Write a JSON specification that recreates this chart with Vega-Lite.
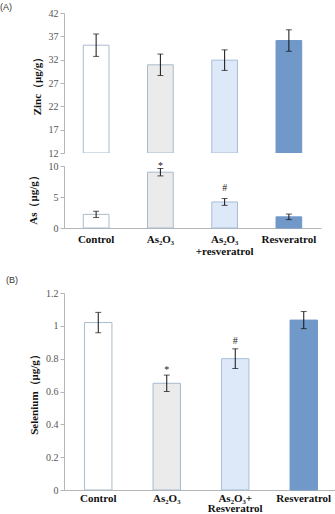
{
  "$schema": "https://vega.github.io/schema/vega-lite/v6.json",
  "background": "white",
  "padding": {"left": 0, "top": 3, "right": 0, "bottom": 0},
  "config": {
    "view": {"stroke": null},
    "font": "Liberation Serif",
    "axis": {
      "grid": false,
      "domainColor": "#b5b5b5",
      "tickColor": "#b5b5b5",
      "tickSize": 4,
      "labelOverlap": false,
      "labelFont": "Liberation Serif",
      "labelColor": "#555555",
      "labelFontSize": 10,
      "titleFont": "Liberation Serif",
      "titleFontWeight": "bold",
      "titleFontSize": 11,
      "titleColor": "#111111"
    },
    "title": {"font": "Liberation Sans", "fontSize": 9, "fontWeight": "normal", "color": "#333333", "anchor": "start", "frame": "group"}
  },
  "vconcat": [
    {
      "spacing": 3,
      "vconcat": [
        {
          "title": {"text": "(A)", "dx": -64, "offset": -4},
          "width": 257,
          "height": 140,
          "data": {"values": [
            {"group": "Control", "mean": 35.1, "err": 2.4},
            {"group": "As₂O₃", "mean": 30.9, "err": 2.3},
            {"group": "As₂O₃+resveratrol", "mean": 31.9, "err": 2.2},
            {"group": "Resveratrol", "mean": 36.1, "err": 2.3}
          ]},
          "layer": [
            {
              "mark": {"type": "bar", "strokeWidth": 1, "clip": true},
              "encoding": {
                "x": {"field": "group", "type": "nominal", "sort": null, "axis": null,
                      "scale": {"paddingInner": 0.6, "paddingOuter": 0.3}},
                "y": {"field": "mean", "type": "quantitative", "title": "Zinc（μg/g）",
                      "scale": {"domain": [12, 42], "nice": false, "zero": false},
                      "axis": {"values": [12, 17, 22, 27, 32, 37, 42], "tickCount": 20, "format": "~g", "labelOverlap": false, "titlePadding": 6}},
                "y2": {"datum": 12},
                "fill": {"field": "group", "type": "nominal", "sort": null, "legend": null,
                         "scale": {"range": ["#ffffff", "#ebebeb", "#dde9f8", "#7098c8"]}},
                "stroke": {"field": "group", "type": "nominal", "sort": null, "legend": null,
                           "scale": {"range": ["#a9bccb", "#a9b9ca", "#a9bdd6", "#7098c8"]}}
              }
            },
            {
              "mark": {"type": "errorbar", "ticks": {"size": 6, "color": "#111111"}, "rule": {"color": "#111111"}},
              "encoding": {
                "x": {"field": "group", "type": "nominal", "sort": null},
                "y": {"field": "mean", "type": "quantitative", "title": "Zinc（μg/g）"},
                "yError": {"field": "err"}
              }
            }
          ]
        },
        {
          "width": 257,
          "height": 62,
          "data": {"values": [
            {"group": "Control", "mean": 2.2, "err": 0.5, "sig": ""},
            {"group": "As₂O₃", "mean": 9.0, "err": 0.6, "sig": "*"},
            {"group": "As₂O₃+resveratrol", "mean": 4.2, "err": 0.55, "sig": "#"},
            {"group": "Resveratrol", "mean": 1.8, "err": 0.45, "sig": ""}
          ]},
          "layer": [
            {
              "mark": {"type": "bar", "strokeWidth": 1},
              "encoding": {
                "x": {"field": "group", "type": "nominal", "sort": null, "title": null,
                      "scale": {"paddingInner": 0.6, "paddingOuter": 0.3},
                      "axis": {"labelAngle": 0, "ticks": false, "labelColor": "#111111", "labelFontWeight": "bold",
                               "labelFontSize": 11, "labelPadding": 5, "labelLineHeight": 12,
                               "labelExpr": "datum.value == 'As₂O₃+resveratrol' ? ['As₂O₃', '+resveratrol'] : datum.label"}},
                "y": {"field": "mean", "type": "quantitative", "title": "As（μg/g）",
                      "scale": {"domain": [0, 10], "nice": false},
                      "axis": {"values": [0, 5, 10], "tickCount": 20, "format": "~g", "labelOverlap": false, "titlePadding": 10}},
                "fill": {"field": "group", "type": "nominal", "sort": null, "legend": null,
                         "scale": {"range": ["#ffffff", "#ebebeb", "#dde9f8", "#7098c8"]}},
                "stroke": {"field": "group", "type": "nominal", "sort": null, "legend": null,
                           "scale": {"range": ["#a9bccb", "#a9b9ca", "#a9bdd6", "#7098c8"]}}
              }
            },
            {
              "mark": {"type": "errorbar", "ticks": {"size": 6, "color": "#111111"}, "rule": {"color": "#111111"}},
              "encoding": {
                "x": {"field": "group", "type": "nominal", "sort": null},
                "y": {"field": "mean", "type": "quantitative", "title": "As（μg/g）"},
                "yError": {"field": "err"}
              }
            },
            {
              "transform": [{"filter": "datum.sig == '*'"}, {"calculate": "datum.mean + datum.err", "as": "top"}],
              "mark": {"type": "text", "baseline": "bottom", "dy": 3, "fontSize": 10, "color": "#222222"},
              "encoding": {
                "x": {"field": "group", "type": "nominal", "sort": null},
                "y": {"field": "top", "type": "quantitative"},
                "text": {"field": "sig"}
              }
            },
            {
              "transform": [{"filter": "datum.sig == '#'"}, {"calculate": "datum.mean + datum.err", "as": "top"}],
              "mark": {"type": "text", "baseline": "bottom", "dy": -6, "fontSize": 10, "color": "#222222"},
              "encoding": {
                "x": {"field": "group", "type": "nominal", "sort": null},
                "y": {"field": "top", "type": "quantitative"},
                "text": {"field": "sig"}
              }
            }
          ]
        }
      ]
    },
    {
      "title": {"text": "(B)", "dx": -58, "offset": 3},
      "width": 274,
      "height": 197,
      "data": {"values": [
        {"group": "Control", "mean": 1.02, "err": 0.062, "sig": ""},
        {"group": "As₂O₃", "mean": 0.65, "err": 0.05, "sig": "*"},
        {"group": "As₂O₃+resveratrol", "mean": 0.80, "err": 0.06, "sig": "#"},
        {"group": "Resveratrol", "mean": 1.035, "err": 0.052, "sig": ""}
      ]},
      "layer": [
        {
          "mark": {"type": "bar", "strokeWidth": 1},
          "encoding": {
            "x": {"field": "group", "type": "nominal", "sort": null, "title": null,
                  "scale": {"paddingInner": 0.6, "paddingOuter": 0.3},
                  "axis": {"labelAngle": 0, "ticks": false, "labelColor": "#111111", "labelFontWeight": "bold",
                           "labelFontSize": 11, "labelPadding": 8, "labelLineHeight": 10.5, "labelBaseline": "middle",
                           "labelExpr": "datum.value == 'As₂O₃+resveratrol' ? ['As₂O₃+', 'Resveratrol'] : datum.label"}},
            "y": {"field": "mean", "type": "quantitative", "title": "Selenium（μg/g）",
                  "scale": {"domain": [0, 1.2], "nice": false},
                  "axis": {"values": [0, 0.2, 0.4, 0.6, 0.8, 1, 1.2], "tickCount": 20, "labelOverlap": false, "format": "~g", "titlePadding": 6}},
            "fill": {"field": "group", "type": "nominal", "sort": null, "legend": null,
                     "scale": {"range": ["#ffffff", "#ebebeb", "#dde9f8", "#7098c8"]}},
            "stroke": {"field": "group", "type": "nominal", "sort": null, "legend": null,
                       "scale": {"range": ["#a9bccb", "#a9b9ca", "#a9bdd6", "#7098c8"]}}
          }
        },
        {
          "mark": {"type": "errorbar", "ticks": {"size": 6, "color": "#111111"}, "rule": {"color": "#111111"}},
          "encoding": {
            "x": {"field": "group", "type": "nominal", "sort": null},
            "y": {"field": "mean", "type": "quantitative", "title": "Selenium（μg/g）"},
            "yError": {"field": "err"}
          }
        },
        {
          "transform": [{"filter": "datum.sig == '*'"}, {"calculate": "datum.mean + datum.err", "as": "top"}],
          "mark": {"type": "text", "baseline": "bottom", "dy": 0, "fontSize": 10, "color": "#222222"},
          "encoding": {
            "x": {"field": "group", "type": "nominal", "sort": null},
            "y": {"field": "top", "type": "quantitative"},
            "text": {"field": "sig"}
          }
        },
        {
          "transform": [{"filter": "datum.sig == '#'"}, {"calculate": "datum.mean + datum.err", "as": "top"}],
          "mark": {"type": "text", "baseline": "bottom", "dy": -3, "fontSize": 10, "color": "#222222"},
          "encoding": {
            "x": {"field": "group", "type": "nominal", "sort": null},
            "y": {"field": "top", "type": "quantitative"},
            "text": {"field": "sig"}
          }
        }
      ]
    }
  ]
}
